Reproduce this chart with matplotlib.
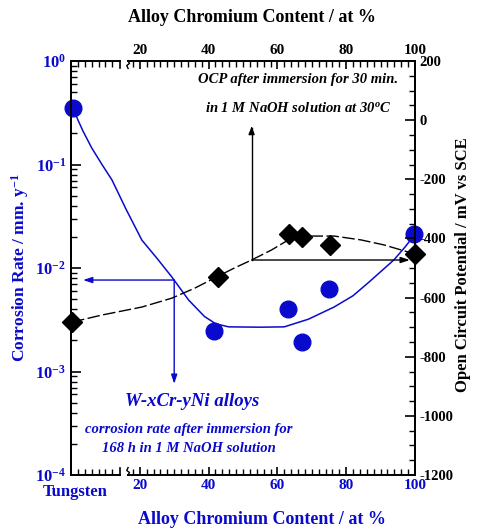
import numpy as np
import matplotlib
matplotlib.use("Agg")
import matplotlib.pyplot as plt
import matplotlib.ticker as mticker

BLUE = "#0a0acc"
BLACK = "#000000"

plt.rcParams.update({
    "font.family": "Liberation Serif",
    "font.weight": "bold",
    "font.size": 9,
    "mathtext.fontset": "custom",
    "mathtext.rm": "Liberation Serif:bold",
    "mathtext.it": "Liberation Serif:bold:italic",
    "mathtext.bf": "Liberation Serif:bold",
    "mathtext.default": "regular",
    "axes.unicode_minus": False,
    "axes.linewidth": 1.4,
})

# ── Data ────────────────────────────────────────────────────────────────
# x = alloy chromium content (at %); x = 0 is pure tungsten
rate_x = [0.6, 41.7, 63.2, 67.2, 75.1, 99.7]
rate_y = [0.35, 2.45e-3, 4.0e-3, 1.93e-3, 6.3e-3, 0.0214]       # mm/y

ocp_x = [0.3, 42.6, 63.5, 67.2, 75.4, 100.0]
ocp_y = [-683, -530, -385, -395, -422, -453]                     # mV vs SCE

# fitted trend lines
rate_fit_x = [0.6, 2.0, 3.5, 6.0, 9.0, 11.9, 16.0, 20.6, 25.0, 29.3, 34.2, 38.8, 42.0,
              45.8, 55.0, 62.0, 69.0, 76.5, 82.0, 86.4, 90.0, 93.9, 97.0, 99.7]
rate_fit_y = [0.35, 0.27, 0.21, 0.145, 0.10, 0.071, 0.037, 0.0186, 0.0124, 8.2e-3,
              4.9e-3, 3.4e-3, 2.9e-3, 2.7e-3, 2.68e-3, 2.7e-3, 3.2e-3, 4.2e-3, 5.4e-3,
              7.2e-3, 9.2e-3, 0.012, 0.0158, 0.0205]

ocp_fit_x = [0.3, 9.0, 20.6, 29.3, 36.0, 41.7, 47.5, 52.5, 58.3, 63.2, 69.0, 76.5, 84.3, 91.0, 98.0]
ocp_fit_y = [-683, -659, -632, -602, -568, -534, -500, -473, -439, -405, -392, -392,
             -405, -422, -446]

x_major = [20, 40, 60, 80, 100]
x_minor = [2, 4, 6, 8, 10, 12] + list(range(18, 100, 2))
BREAK_L, BREAK_R = 14.2, 16.6

# ── Figure ──────────────────────────────────────────────────────────────
fig = plt.figure(figsize=(4.81, 5.31), dpi=100)
ax = fig.add_axes([71 / 481, 1 - 475 / 531, 344 / 481, 414 / 531])
ax2 = ax.twinx()

# corrosion rate (left, log)
ax.set_yscale("log")
ax.set_ylim(1e-4, 1)
ax.set_xlim(0, 100)
ax.plot(rate_fit_x, rate_fit_y, color=BLUE, lw=1.1, zorder=3)
ax.plot(rate_x, rate_y, "o", color=BLUE, ms=12, zorder=5, clip_on=False)

# open circuit potential (right)
ax2.set_ylim(-1200, 200)
ax2.plot(ocp_fit_x, ocp_fit_y, color=BLACK, lw=1.0, ls=(0, (9, 2.5)), zorder=3)
ax2.plot(ocp_x, ocp_y, "D", color=BLACK, ms=10.5, zorder=4, clip_on=False)

# left axis ticks
ax.yaxis.set_major_locator(mticker.LogLocator(base=10, numticks=10))
ax.yaxis.set_minor_locator(mticker.LogLocator(base=10, subs=np.arange(2, 10), numticks=10))
ax.yaxis.set_minor_formatter(mticker.NullFormatter())
ax.tick_params(axis="y", which="both", direction="in", colors=BLACK, labelcolor=BLUE, labelsize=12)
ax.tick_params(axis="y", which="major", length=7, width=1.2)
ax.tick_params(axis="y", which="minor", length=4, width=1.0)

# right axis ticks
ax2.yaxis.set_major_locator(mticker.MultipleLocator(200))
ax2.yaxis.set_minor_locator(mticker.MultipleLocator(50))
ax2.tick_params(axis="y", which="both", direction="in", labelsize=10.5, colors=BLACK, pad=3)
ax2.tick_params(axis="y", which="major", length=7, width=1.2)
ax2.tick_params(axis="y", which="minor", length=4, width=1.0)

# x axes: broken between tungsten and the alloys
for a in (ax, ax2):
    a.spines["bottom"].set_visible(False)
    a.spines["top"].set_visible(False)
ax.xaxis.set_major_locator(mticker.FixedLocator(x_major))
ax.xaxis.set_minor_locator(mticker.FixedLocator(x_minor))
ax.tick_params(axis="x", which="both", direction="in", top=True, bottom=True,
               labeltop=True, labelbottom=True, labelsize=11, pad=3)
ax.tick_params(axis="x", which="major", length=6, width=1.2)
ax.tick_params(axis="x", which="minor", length=4, width=1.0)
for t in ax.xaxis.get_major_ticks():
    t.label1.set_color(BLUE)
    t.label2.set_color(BLACK)

xt = ax.get_xaxis_transform()
for yy in (0, 1):
    ax.plot([0, BREAK_L], [yy, yy], color=BLACK, lw=1.4, transform=xt, clip_on=False, zorder=6)
    ax.plot([BREAK_R, 100], [yy, yy], color=BLACK, lw=1.4, transform=xt, clip_on=False, zorder=6)
    sgn = 1 if yy == 0 else -1
    ax.plot([BREAK_L, BREAK_L], [yy, yy + sgn * 0.016], color=BLACK, lw=1.2,
            transform=xt, clip_on=False, zorder=6)
    ax.plot([BREAK_R, BREAK_R + 0.4, BREAK_R - 0.4, BREAK_R],
            [yy, yy + sgn * 0.006, yy + sgn * 0.011, yy + sgn * 0.018],
            color=BLACK, lw=1.0, transform=xt, clip_on=False, zorder=6)

ax.text(1.3, -0.022, "Tungsten", transform=xt, ha="center", va="top", color=BLUE, fontsize=12)

# axis titles
fig.text(20 / 481, 1 - 268 / 531, "Corrosion Rate / mm. y$^{-1}$", rotation=90,
         ha="center", va="center", color=BLUE, fontsize=12.5)
fig.text(463 / 481, 1 - 265 / 531, "Open Circuit Potential / mV vs SCE", rotation=90,
         ha="center", va="center", color=BLACK, fontsize=12)
fig.text(252 / 481, 1 - 18 / 531, "Alloy Chromium Content / at %", ha="center", va="center",
         fontsize=13, color=BLACK)
fig.text(262 / 481, 1 - 520 / 531, "Alloy Chromium Content / at %", ha="center", va="center",
         fontsize=13, color=BLUE)

# guide arrows
head = "-|>,head_length=0.6,head_width=0.2"
ax2.plot([52.5, 52.5], [-473, -25], color=BLACK, lw=1.0)
ax2.annotate("", xy=(52.5, -12), xytext=(52.5, -40),
             arrowprops=dict(arrowstyle="-|>,head_length=0.5,head_width=0.2", color=BLACK, lw=1.0))
ax2.annotate("", xy=(98.5, -473), xytext=(52.5, -473),
             arrowprops=dict(arrowstyle=head, color=BLACK, lw=1.0, shrinkA=0, shrinkB=0))
ax.annotate("", xy=(3.5, 7.65e-3), xytext=(30, 7.65e-3),
            arrowprops=dict(arrowstyle=head, color=BLUE, lw=1.0, shrinkA=0, shrinkB=0))
ax.annotate("", xy=(30, 7.6e-4), xytext=(30, 7.65e-3),
            arrowprops=dict(arrowstyle=head, color=BLUE, lw=1.0, shrinkA=0, shrinkB=0))

# notes
fig.text(298 / 481, 1 - 80 / 531, "OCP after immersion for 30 min.", ha="center", va="center",
         style="italic", fontsize=10.5, color=BLACK)
fig.text(298 / 481, 1 - 108 / 531, "in 1 M NaOH solution at 30$^{o}$C", ha="center", va="center",
         style="italic", fontsize=10.5, color=BLACK)
fig.text(192 / 481, 1 - 401 / 531, "W-xCr-yNi alloys", ha="center", va="center",
         style="italic", fontsize=13.5, color=BLUE)
fig.text(189 / 481, 1 - 429 / 531, "corrosion rate after immersion for", ha="center", va="center",
         style="italic", fontsize=10.5, color=BLUE)
fig.text(189 / 481, 1 - 448 / 531, "168 h in 1 M NaOH solution", ha="center", va="center",
         style="italic", fontsize=10.5, color=BLUE)

fig.savefig("out.png", dpi=100)
